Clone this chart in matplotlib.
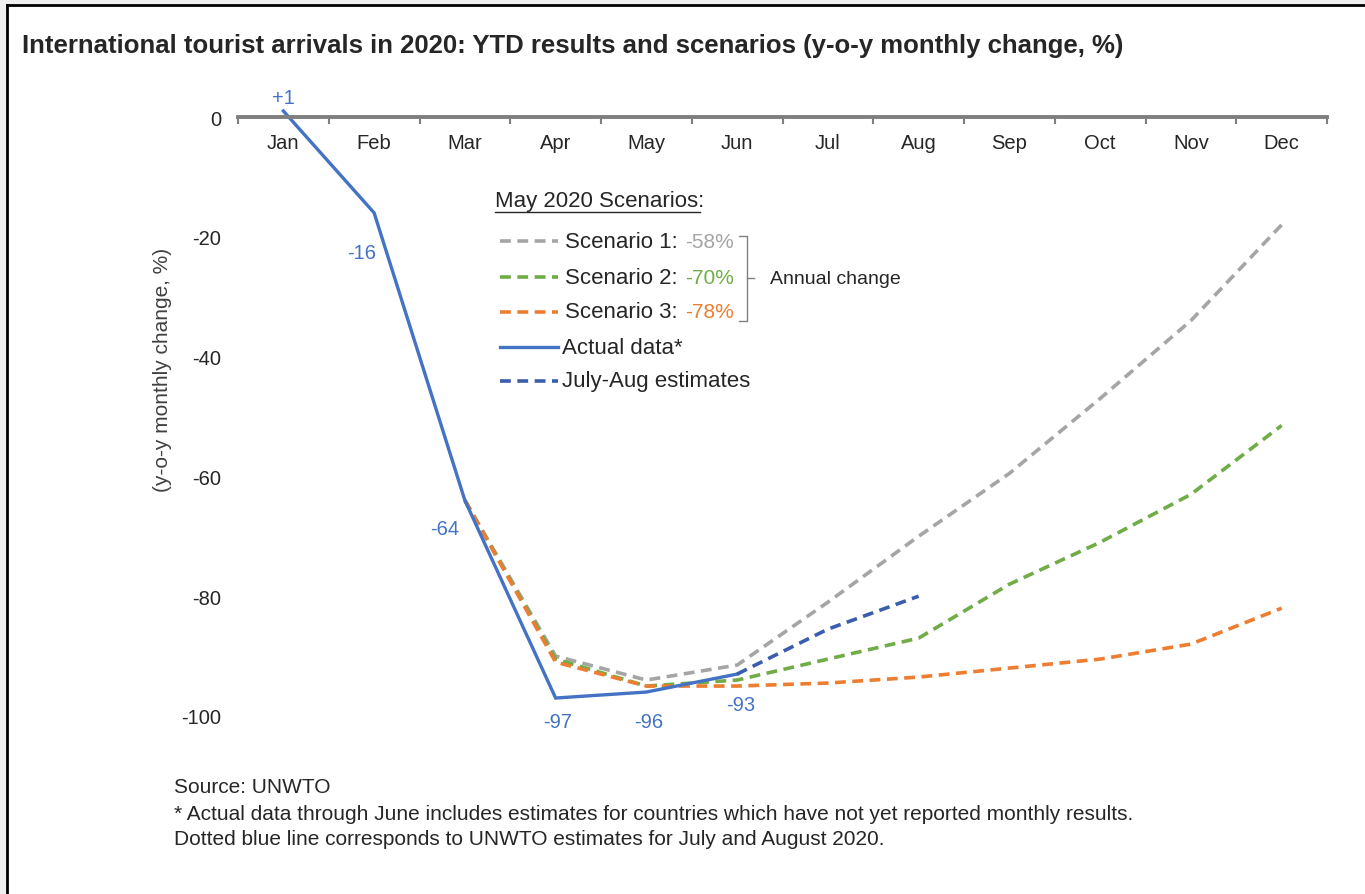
import matplotlib.pyplot as plt
from matplotlib.patches import Rectangle
from matplotlib.lines import Line2D

plt.rcParams['font.family'] = ['Liberation Sans', 'DejaVu Sans']
plt.rcParams['axes.unicode_minus'] = False

months = ["Jan", "Feb", "Mar", "Apr", "May", "Jun",
          "Jul", "Aug", "Sep", "Oct", "Nov", "Dec"]

# actual monthly change, Jan-Jun
actual = [1, -16, -64, -97, -96, -93]
actual_labels = ["+1", "-16", "-64", "-97", "-96", "-93"]

# scenarios, Mar-Dec
scen1 = [-64, -90, -94, -91.5, -81, -70, -59.5, -47, -34, -18]
scen2 = [-64, -90.5, -95, -94, -90.5, -87, -78, -71, -63, -51.5]
scen3 = [-64, -91, -95, -95, -94.5, -93.5, -92, -90.5, -88, -82]

# July-Aug estimates, Jun-Aug
estimates = [-93, -85.5, -80]

scen_names = ["Scenario 1:", "Scenario 2:", "Scenario 3:"]
scen_annual = ["-58%", "-70%", "-78%"]

c_blue = "#4472C4"
c_est = "#3A5DAE"
c_gray = "#A5A5A5"
c_green = "#70AD47"
c_orange = "#ED7D31"
scen_colors = [c_gray, c_green, c_orange]
c_text = "#262626"

W, H = 1365, 895
fig = plt.figure(figsize=(W / 100, H / 100), dpi=100)


def px(x, y):
    return x / W, 1 - y / H


# frame
fig.patches.append(Rectangle((0, 0), 7 / W, 1, transform=fig.transFigure,
                             facecolor="#f0f0f0", edgecolor="none"))
fig.patches.append(Rectangle((0, 1 - 6 / H), 1, 6 / H, transform=fig.transFigure,
                             facecolor="#f0f0f0", edgecolor="none"))
fig.add_artist(Line2D([7 / W, 7 / W], [0, 1 - 6 / H], transform=fig.transFigure,
                      color="black", lw=2))
fig.add_artist(Line2D([7 / W, 1], [1 - 6 / H, 1 - 6 / H], transform=fig.transFigure,
                      color="black", lw=2))

ax = fig.add_axes([238 / W, 1 - 717 / H, 1089 / W, 599 / H])
x_act = list(range(len(actual)))
x_scen = list(range(2, 12))
x_est = list(range(5, 8))

dash = (0, (3, 1.8))
for vals, col in zip([scen1, scen2, scen3], scen_colors):
    ax.plot(x_scen, vals, color=col, lw=2.6, linestyle=dash, clip_on=False)
ax.plot(x_act, actual, color=c_blue, lw=2.4, clip_on=False, solid_joinstyle="miter")
ax.plot(x_est, estimates, color=c_est, lw=2.6, linestyle=dash, clip_on=False)

# data labels
offsets = [(0, 14), (-12, -40), (-20, -28), (2, -23), (2, -29), (4, -30)]
for xi, yi, lab, (dx, dy) in zip(x_act, actual, actual_labels, offsets):
    ax.annotate(lab, (xi, yi), xytext=(dx, dy), textcoords="offset pixels",
                ha="center", va="center", color=c_blue, fontsize=14.5,
                annotation_clip=False)

ax.set_xlim(-0.5, 11.5)
ax.set_ylim(-100, 0)
ax.set_xticks(range(12))
ax.set_xticklabels(months)
ax.set_xticks([i - 0.5 for i in range(13)], minor=True)
ax.tick_params(axis="x", which="major", top=True, bottom=False, labeltop=True,
               labelbottom=False, length=0, pad=-25, labelsize=14.5, labelcolor=c_text)
ax.tick_params(axis="x", which="minor", top=True, bottom=False, direction="in",
               length=5, width=1.5, color="#7f7f7f")
ax.set_yticks([0, -20, -40, -60, -80, -100])
ax.tick_params(axis="y", length=0, pad=12, labelsize=14.5, labelcolor=c_text)
for s in ["left", "right", "bottom"]:
    ax.spines[s].set_visible(False)
ax.spines["top"].set_color("#7f7f7f")
ax.spines["top"].set_linewidth(2.8)
ax.set_ylabel("(y-o-y monthly change, %)", fontsize=15, color="#404040")
ax.yaxis.set_label_coords(-0.061, 0.579)

# title
fig.text(*px(22, 46), "International tourist arrivals in 2020: YTD results and scenarios (y-o-y monthly change, %)",
         fontsize=18.5, fontweight="bold", color=c_text, va="center")

# legend
fig.text(*px(495, 202), "May 2020 Scenarios:", fontsize=16, va="center", color=c_text)
fig.add_artist(Line2D([495 / W, 700 / W], [1 - 213 / H] * 2, transform=fig.transFigure,
                      color=c_text, lw=1))
rows = [242, 278, 313, 348, 382]
for i in range(3):
    y = rows[i]
    fig.add_artist(Line2D([500 / W, 558 / W], [1 - y / H] * 2, transform=fig.transFigure,
                          color=scen_colors[i], lw=2.6, linestyle=dash))
    fig.text(*px(565, y), scen_names[i], fontsize=16, va="center", color=c_text)
    fig.text(*px(685, y), scen_annual[i], fontsize=15, va="center", color=scen_colors[i])
fig.add_artist(Line2D([500 / W, 558 / W], [1 - rows[3] / H] * 2, transform=fig.transFigure,
                      color=c_blue, lw=2.4))
fig.text(*px(562, rows[3]), "Actual data*", fontsize=16, va="center", color=c_text)
fig.add_artist(Line2D([500 / W, 558 / W], [1 - rows[4] / H] * 2, transform=fig.transFigure,
                      color=c_est, lw=2.6, linestyle=dash))
fig.text(*px(562, rows[4]), "July-Aug estimates", fontsize=16, va="center", color=c_text)

# bracket
bx = [739 / W, 747 / W, 747 / W, 739 / W]
by = [1 - 237 / H, 1 - 237 / H, 1 - 322 / H, 1 - 322 / H]
fig.add_artist(Line2D(bx, by, transform=fig.transFigure, color="#808080", lw=1))
fig.add_artist(Line2D([747 / W, 754 / W], [1 - 279 / H] * 2, transform=fig.transFigure,
                      color="#808080", lw=1))
fig.text(*px(770, 280), "Annual change", fontsize=14, va="center", color=c_text)

# footnotes
fig.text(*px(174, 788), "Source: UNWTO", fontsize=15, va="center", color=c_text)
fig.text(*px(174, 815), "* Actual data through June includes estimates for countries which have not yet reported monthly results.",
         fontsize=15, va="center", color=c_text)
fig.text(*px(174, 840), "Dotted blue line corresponds to UNWTO estimates for July and August 2020.",
         fontsize=15, va="center", color=c_text)

fig.savefig("out.png", dpi=100)
